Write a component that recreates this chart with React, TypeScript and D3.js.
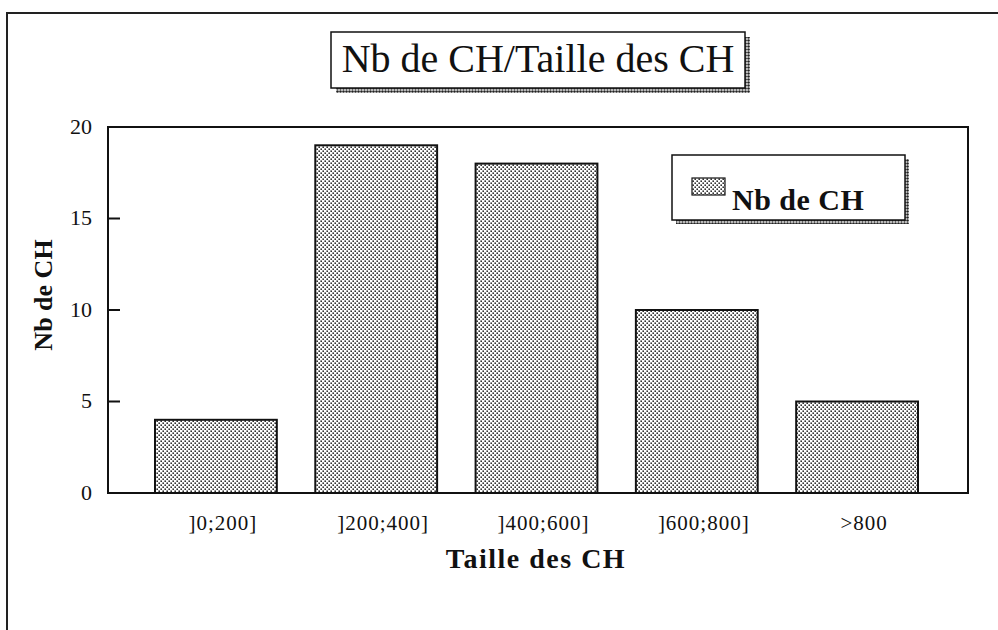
import React from 'react';
import * as d3 from "d3";

// data
const categories = ["]0;200]", "]200;400]", "]400;600]", "]600;800]", ">800"];
const nbDeCH = [4, 19, 18, 10, 5];
const yTicks = [0, 5, 10, 15, 20];

const chartTitle = "Nb de CH/Taille des CH";
const xTitle = "Taille des CH";
const yTitle = "Nb de CH";
const seriesName = "Nb de CH";

const FONT = "'Liberation Serif', 'Times New Roman', serif";

const App = () => {
    const svgRef = React.useRef<SVGSVGElement>(null);

    const width = 998;
    const height = 630;
    // plot box
    const plot = {left: 108, right: 968, top: 127, bottom: 493};

    React.useEffect(() => {
        const svg = d3.select(svgRef.current);
        svg.selectAll("*").remove();

        const defs = svg.append("defs");
        // dotted fill of the bars
        const dots = defs.append("pattern")
            .attr("id", "dots")
            .attr("patternUnits", "userSpaceOnUse")
            .attr("width", 4)
            .attr("height", 4);
        dots.append("rect").attr("width", 4).attr("height", 4).attr("fill", "#ffffff");
        dots.append("rect").attr("x", 0.4).attr("y", 0.4).attr("width", 1.6).attr("height", 1.6).attr("fill", "#333");
        dots.append("rect").attr("x", 2.4).attr("y", 2.4).attr("width", 1.6).attr("height", 1.6).attr("fill", "#333");

        // beaded shadow of the boxes
        const beads = defs.append("pattern")
            .attr("id", "beads")
            .attr("patternUnits", "userSpaceOnUse")
            .attr("width", 3)
            .attr("height", 3);
        beads.append("rect").attr("width", 3).attr("height", 3).attr("fill", "#ffffff");
        beads.append("circle").attr("cx", 1.5).attr("cy", 1.5).attr("r", 1.3).attr("fill", "#222");

        // outer frame (only top and left visible)
        svg.append("path")
            .attr("d", `M7,${height} L7,13 L${width},13`)
            .attr("fill", "none")
            .attr("stroke", "#222")
            .attr("stroke-width", 2);

        // title box
        const tb = {x: 331, y: 32, w: 414, h: 56, sh: 5};
        svg.append("rect")
            .attr("x", tb.x + tb.sh).attr("y", tb.y + tb.sh)
            .attr("width", tb.w).attr("height", tb.h)
            .attr("fill", "url(#beads)");
        svg.append("rect")
            .attr("x", tb.x).attr("y", tb.y)
            .attr("width", tb.w).attr("height", tb.h)
            .attr("fill", "white")
            .attr("stroke", "#111")
            .attr("stroke-width", 1.5);
        svg.append("text")
            .attr("x", tb.x + tb.w / 2)
            .attr("y", 72)
            .attr("text-anchor", "middle")
            .attr("font-family", FONT)
            .attr("font-size", 40)
            .attr("fill", "#111")
            .text(chartTitle);

        const xScale = d3.scaleBand<string>()
            .domain(categories)
            .range([plot.left + 47, plot.right - 50])
            .paddingInner(0.24)
            .paddingOuter(0);

        const yScale = d3.scaleLinear()
            .domain([0, 20])
            .range([plot.bottom, plot.top]);

        // bars
        svg.append("g")
            .selectAll("rect")
            .data(nbDeCH)
            .enter()
            .append("rect")
            .attr("x", (d, i) => xScale(categories[i])!)
            .attr("y", d => yScale(d))
            .attr("width", xScale.bandwidth())
            .attr("height", d => yScale(0) - yScale(d))
            .attr("fill", "url(#dots)")
            .attr("stroke", "#111")
            .attr("stroke-width", 2);

        // plot box
        svg.append("rect")
            .attr("x", plot.left).attr("y", plot.top)
            .attr("width", plot.right - plot.left)
            .attr("height", plot.bottom - plot.top)
            .attr("fill", "none")
            .attr("stroke", "#111")
            .attr("stroke-width", 2);

        // y axis: inward ticks, labels on the left
        const yAxis = svg.append("g")
            .attr("transform", "translate(" + plot.left + ",0)");
        yAxis.selectAll("line")
            .data(yTicks.filter(t => t > 0 && t < 20))
            .enter()
            .append("line")
            .attr("x1", 0).attr("x2", 12)
            .attr("y1", d => yScale(d)).attr("y2", d => yScale(d))
            .attr("stroke", "#111")
            .attr("stroke-width", 2);
        yAxis.selectAll("text")
            .data(yTicks)
            .enter()
            .append("text")
            .attr("x", -16)
            .attr("y", d => yScale(d))
            .attr("dy", "0.3em")
            .attr("text-anchor", "end")
            .attr("font-family", FONT)
            .attr("font-size", 22)
            .attr("fill", "#111")
            .text(d => d);

        // category labels
        svg.append("g")
            .selectAll("text")
            .data(categories)
            .enter()
            .append("text")
            .attr("x", d => xScale(d)! + xScale.bandwidth() / 2 + 7)
            .attr("y", 530)
            .attr("text-anchor", "middle")
            .attr("font-family", FONT)
            .attr("font-size", 21)
            .attr("letter-spacing", 1)
            .attr("fill", "#111")
            .text(d => d);

        // axis titles
        svg.append("text")
            .attr("x", 536)
            .attr("y", 568)
            .attr("text-anchor", "middle")
            .attr("font-family", FONT)
            .attr("font-weight", "bold")
            .attr("font-size", 28)
            .attr("letter-spacing", 1.5)
            .attr("fill", "#111")
            .text(xTitle);

        svg.append("text")
            .attr("transform", "translate(52,295) rotate(-90)")
            .attr("text-anchor", "middle")
            .attr("font-family", FONT)
            .attr("font-weight", "bold")
            .attr("font-size", 26)
            .attr("fill", "#111")
            .text(yTitle);

        // legend
        const lg = {x: 672, y: 155, w: 233, h: 65, sh: 4};
        svg.append("rect")
            .attr("x", lg.x + lg.sh).attr("y", lg.y + lg.sh)
            .attr("width", lg.w).attr("height", lg.h)
            .attr("fill", "url(#beads)");
        svg.append("rect")
            .attr("x", lg.x).attr("y", lg.y)
            .attr("width", lg.w).attr("height", lg.h)
            .attr("fill", "white")
            .attr("stroke", "#111")
            .attr("stroke-width", 1.5);
        svg.append("rect")
            .attr("x", lg.x + 20).attr("y", lg.y + 23)
            .attr("width", 33).attr("height", 17)
            .attr("fill", "url(#dots)")
            .attr("stroke", "#111")
            .attr("stroke-width", 1.2);
        svg.append("text")
            .attr("x", lg.x + 60)
            .attr("y", lg.y + 55)
            .attr("font-family", FONT)
            .attr("font-weight", "bold")
            .attr("font-size", 30)
            .attr("letter-spacing", 0.5)
            .attr("fill", "#111")
            .text(seriesName);
    }, []);

    return (
        <svg
            ref={svgRef}
            width={width}
            height={height}
            style={{position: "absolute", left: 0, top: 0, background: "white"}}>
        </svg>
    );
}

export default App;
